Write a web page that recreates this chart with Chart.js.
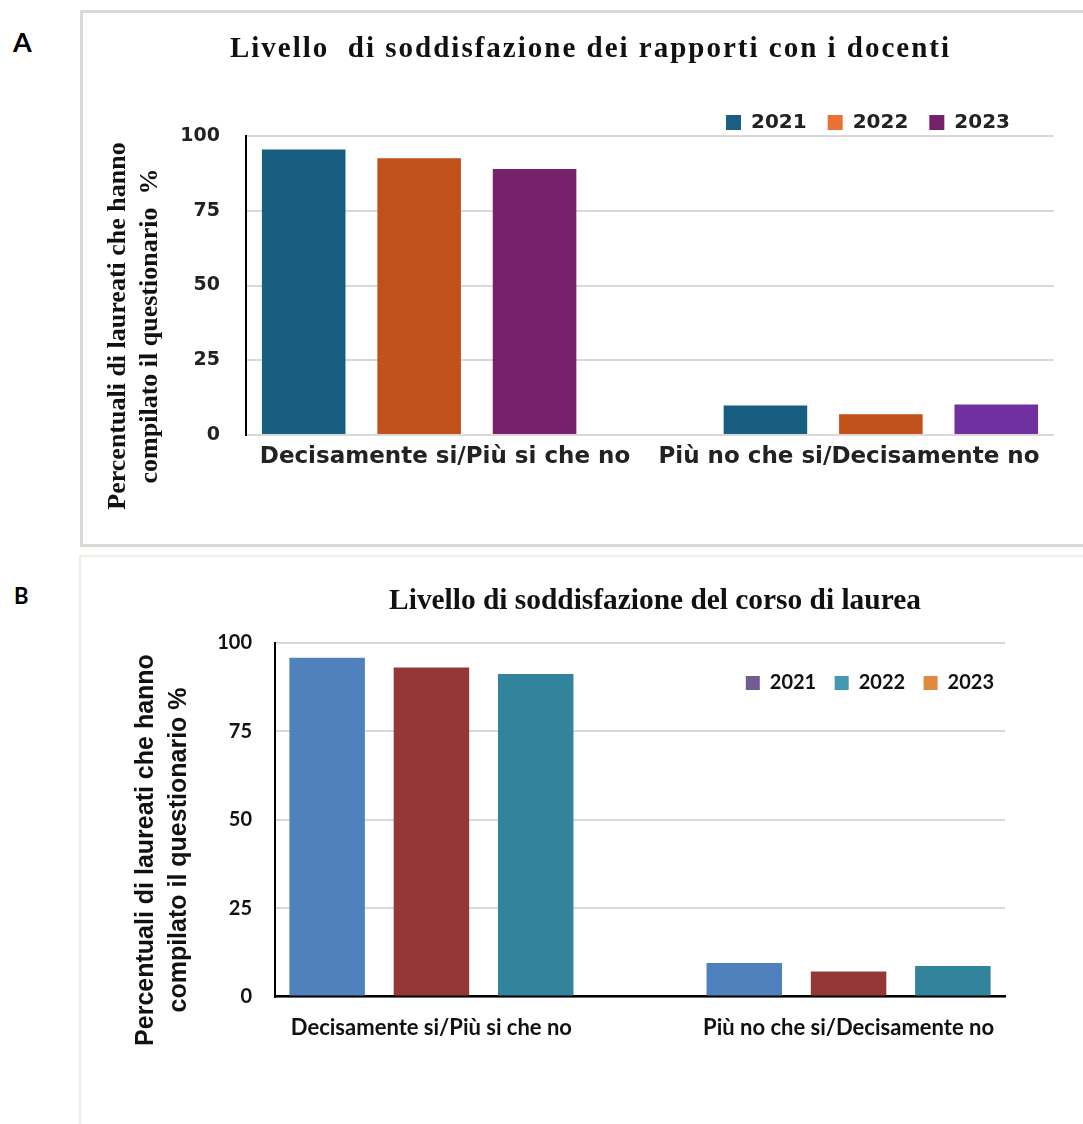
<!DOCTYPE html>
<html>
<head>
<meta charset="utf-8">
<script src="https://cdn.jsdelivr.net/npm/chart.js@4.4.1/dist/chart.umd.min.js"></script>
<style>
  html, body { margin: 0; padding: 0; background: #fff; width: 1083px; height: 1124px; overflow: hidden; position: relative; }
  .frame { position: absolute; box-sizing: border-box; }
  #frameA { left: 80px; top: 10px; width: 1030px; height: 537px; border: 3px solid #dadada; }
  #frameB { left: 79px; top: 555px; width: 1030px; height: 600px; border: 2px solid #f1eee3; }
  .tag { position: absolute; font-family: Lato, sans-serif; font-weight: 700; color: #000; line-height: 1; }
  #tagA { left: 13px; top: 28px; font-size: 27px; }
  #tagB { left: 14px; top: 585px; font-size: 22px; }
  .box { position: absolute; }
  #boxA { left: 84px; top: 14px; width: 999px; height: 530px; }
  #boxB { left: 82px; top: 558px; width: 1001px; height: 566px; }
</style>
</head>
<body>
<div class="frame" id="frameA"></div>
<div class="frame" id="frameB"></div>
<div class="tag" id="tagA">A</div>
<div class="tag" id="tagB">B</div>
<div class="box" id="boxA"><canvas id="chartA"></canvas></div>
<div class="box" id="boxB"><canvas id="chartB"></canvas></div>
<script>
// ---- data ----
const categories = ['Decisamente si/Più si che no', 'Più no che si/Decisamente no'];
const years = ['2021', '2022', '2023'];
const yTicks = [0, 25, 50, 75, 100];

// A: soddisfazione dei rapporti con i docenti (%)
const docenti2021 = [95.5, 9.9];
const docenti2022 = [92.6, 6.9];
const docenti2023 = [89.0, 10.2];

// B: soddisfazione del corso di laurea (%)
const corso2021 = [95.8, 9.5];
const corso2022 = [93.1, 7.1];
const corso2023 = [91.2, 8.6];

const titleA = 'Livello  di soddisfazione dei rapporti con i docenti';
const titleB = 'Livello di soddisfazione del corso di laurea';
const yTitleA = ['Percentuali di laureati che hanno', 'compilato il questionario  %'];
const yTitleB = ['Percentuali di laureati che hanno', 'compilato il questionario %'];

// ---- colours ----
const barColorsA = [['#185E80', '#185E80'], ['#C0511A', '#C0511A'], ['#79206B', '#7030A0']];
const legendColorsA = ['#1A5F82', '#E97132', '#79206B'];
const barColorsB = ['#4F81BD', '#953735', '#31849B'];
const legendColorsB = ['#725A92', '#4299B0', '#E08A40'];

const toPoints = (vals) => vals.map((v, i) => ({ x: i, y: v }));

// shifts the legend box after layout
const legendNudge = {
  id: 'legendNudge',
  afterLayout(chart, args, opts) {
    const l = chart.legend;
    if (!l) return;
    const dx = opts.dx || 0, dy = opts.dy || 0;
    l.left += dx; l.right += dx; l.top += dy; l.bottom += dy;
  }
};

// free-standing titles (chart title and rotated y title)
const captions = {
  id: 'captions',
  afterDraw(chart, args, opts) {
    const ctx = chart.ctx;
    (opts.items || []).forEach((it) => {
      ctx.save();
      ctx.translate(it.x, it.y);
      if (it.rotate) ctx.rotate(it.rotate);
      ctx.font = it.fontString;
      ctx.fillStyle = it.color;
      ctx.textAlign = 'center';
      ctx.textBaseline = it.baseline || 'middle';
      if ('letterSpacing' in ctx) ctx.letterSpacing = (it.spacing || 0) + 'px';
      it.lines.forEach((t, i) => ctx.fillText(t, 0, i * (it.gap || 0)));
      ctx.restore();
    });
  }
};

const legendLabels = (colors, fontColor) => (chart) =>
  chart.data.datasets.map((ds, i) => ({
    text: ds.label, fillStyle: colors[i], strokeStyle: colors[i], lineWidth: 0,
    hidden: false, datasetIndex: i, fontColor: fontColor
  }));

const fixedTicks = (vals) => (scale) => { scale.ticks = vals.map((v) => ({ value: v })); };
const categoryPositions = categories.map((c, i) => i);

// ---- chart A ----
new Chart(document.getElementById('chartA'), {
  type: 'bar',
  data: {
    labels: categories,
    datasets: [docenti2021, docenti2022, docenti2023].map((vals, i) => ({
      label: years[i],
      data: toPoints(vals),
      xAxisID: 'xb',
      backgroundColor: barColorsA[i],
      borderWidth: 0,
      categoryPercentage: 0.75,
      barPercentage: 0.724
    }))
  },
  options: {
    responsive: true,
    maintainAspectRatio: false,
    animation: false,
    events: [],
    layout: { padding: { top: 71, right: 29, bottom: 65, left: 0 } },
    scales: {
      x: {
        type: 'category', offset: true,
        grid: { display: false, drawTicks: false }, border: { display: false },
        ticks: { font: { family: 'DejaVu Sans', weight: 'bold', size: 23 }, color: '#222', padding: 8.2, labelOffset: -3, maxRotation: 0, autoSkip: false }
      },
      xb: {
        type: 'linear', axis: 'x', position: 'bottom', display: false, offset: false,
        min: -0.375, max: 1.375,
        afterBuildTicks: fixedTicks(categoryPositions)
      },
      y: {
        min: 0, max: 100,
        afterBuildTicks: fixedTicks(yTicks),
        afterFit: (s) => { s.width = 162; },
        grid: { color: '#d9d9d9', lineWidth: 2, drawTicks: false },
        border: { display: true, color: '#000', width: 2 },
        ticks: { padding: 26, font: { family: 'DejaVu Sans', weight: 'bold', size: 19 }, color: '#222' }
      }
    },
    plugins: {
      tooltip: { enabled: false },
      legend: {
        position: 'top', align: 'end',
        labels: {
          boxWidth: 15, boxHeight: 15, padding: 21,
          font: { family: 'DejaVu Sans', weight: 'bold', size: 20 }, color: '#222',
          generateLabels: legendLabels(legendColorsA, '#222')
        }
      },
      legendNudge: { dx: -23, dy: 6.5 },
      captions: {
        items: [
          { lines: [titleA], x: 506.5, y: 42.7, baseline: 'alphabetic', spacing: 2,
            fontString: 'bold 29px "Liberation Serif"', color: '#111' },
          { lines: yTitleA, x: 34, y: 312, gap: 32, rotate: -Math.PI / 2,
            fontString: 'bold 26px "Liberation Serif"', color: '#111' }
        ]
      }
    }
  },
  plugins: [legendNudge, captions]
});

// ---- chart B ----
new Chart(document.getElementById('chartB'), {
  type: 'bar',
  data: {
    labels: categories,
    datasets: [corso2021, corso2022, corso2023].map((vals, i) => ({
      label: years[i],
      data: toPoints(vals),
      backgroundColor: barColorsB[i],
      borderWidth: 0,
      categoryPercentage: 0.75,
      barPercentage: 0.724
    }))
  },
  options: {
    responsive: true,
    maintainAspectRatio: false,
    animation: false,
    events: [],
    layout: { padding: { top: 36.5, right: 78, bottom: 64.5, left: 0 } },
    scales: {
      x: {
        type: 'linear', offset: false,
        min: -0.375, max: 1.375,
        afterBuildTicks: fixedTicks(categoryPositions),
        grid: { display: false, drawTicks: false },
        border: { display: true, color: '#000', width: 2.5 },
        ticks: {
          callback: (v) => categories[Math.round(v)],
          font: { family: 'Lato', weight: 'bold', size: 22 }, color: '#111',
          padding: 18.3, maxRotation: 0, autoSkip: false
        }
      },
      y: {
        min: 0, max: 100,
        afterBuildTicks: fixedTicks(yTicks),
        afterFit: (s) => { s.width = 193; },
        grid: { color: '#d9d9d9', lineWidth: 2, drawTicks: false },
        border: { display: true, color: '#000', width: 2 },
        ticks: { padding: 23, font: { family: 'Lato', weight: 'bold', size: 20 }, color: '#111' }
      }
    },
    plugins: {
      tooltip: { enabled: false },
      legend: {
        position: 'top', align: 'end',
        labels: {
          boxWidth: 14, boxHeight: 14, padding: 18.5,
          font: { family: 'Lato', weight: 'bold', size: 20 }, color: '#111',
          generateLabels: legendLabels(legendColorsB, '#111')
        }
      },
      legendNudge: { dx: 7.5, dy: 60 },
      captions: {
        items: [
          { lines: [titleB], x: 573, y: 51, baseline: 'alphabetic',
            fontString: 'bold 29.4px "Liberation Serif"', color: '#111' },
          { lines: yTitleB, x: 64, y: 292, gap: 33, rotate: -Math.PI / 2,
            fontString: 'bold 25px "Liberation Sans"', color: '#111' }
        ]
      }
    }
  },
  plugins: [legendNudge, captions]
});
</script>
</body>
</html>
